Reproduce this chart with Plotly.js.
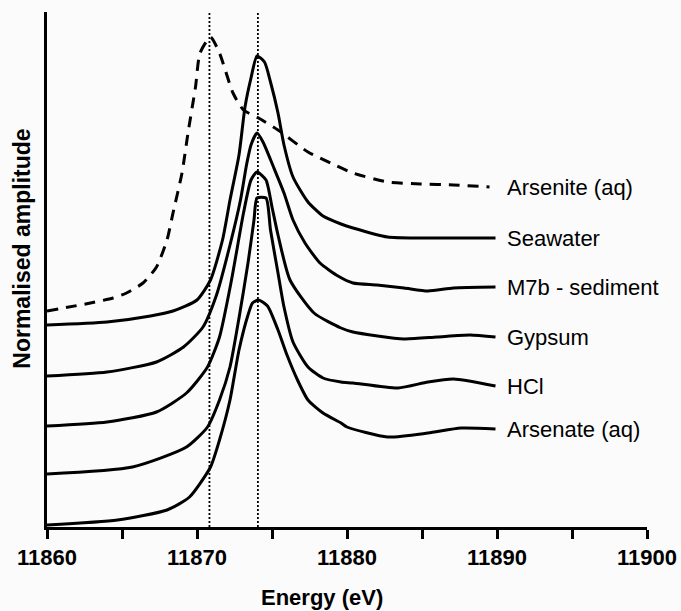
<!DOCTYPE html>
<html>
<head>
<meta charset="utf-8">
<script src="https://cdn.plot.ly/plotly-3.0.1.min.js"></script>
<style>html,body{margin:0;padding:0;background:#fbfbfb;}#chart{width:681px;height:611px;}</style>
</head>
<body>
<div id="chart"></div>
<script>
// ---- Data (energy in eV, normalised amplitude with vertical offsets) ----
const seriesNames = ["Arsenite (aq)", "Seawater", "M7b - sediment", "Gypsum", "HCl", "Arsenate (aq)"];

const arseniteE = [11860, 11862.9, 11864.4, 11865.3, 11866.4, 11867.3, 11868.0, 11868.4, 11869.0, 11869.4, 11869.9, 11870.2, 11870.9, 11871.5, 11872.4, 11873.1, 11874.1, 11875.4, 11877.4, 11878.9, 11880.4, 11882.7, 11884.9, 11887.1, 11889.5];
const arseniteA = [2.16, 2.24, 2.29, 2.34, 2.44, 2.60, 2.87, 3.14, 3.54, 3.94, 4.40, 4.74, 4.90, 4.74, 4.34, 4.17, 4.09, 3.97, 3.75, 3.64, 3.54, 3.45, 3.43, 3.42, 3.40];

const seawaterE = [11860, 11864.0, 11866.9, 11868.4, 11870.0, 11870.9, 11871.7, 11872.2, 11872.8, 11873.2, 11873.6, 11874.0, 11874.5, 11874.9, 11875.4, 11875.8, 11876.4, 11877.4, 11878.4, 11879.6, 11880.4, 11882.7, 11884.9, 11887.1, 11889.9];
const seawaterA = [2.02, 2.05, 2.11, 2.16, 2.27, 2.47, 2.87, 3.27, 3.72, 4.20, 4.49, 4.71, 4.65, 4.45, 4.14, 3.82, 3.50, 3.25, 3.11, 3.03, 2.99, 2.90, 2.89, 2.89, 2.89];

const m7bE = [11860, 11864.0, 11867.3, 11869.1, 11870.4, 11871.3, 11872.2, 11872.9, 11873.3, 11873.6, 11874.0, 11874.4, 11875.1, 11875.8, 11876.4, 11877.2, 11878.2, 11879.4, 11880.4, 11882.0, 11883.8, 11885.4, 11887.1, 11889.9];
const m7bA = [1.51, 1.55, 1.65, 1.80, 2.00, 2.32, 2.82, 3.27, 3.62, 3.82, 3.94, 3.85, 3.60, 3.34, 3.07, 2.84, 2.64, 2.51, 2.44, 2.42, 2.39, 2.36, 2.39, 2.40];

const gypsumE = [11860, 11864.0, 11867.3, 11869.3, 11870.7, 11871.5, 11872.3, 11873.1, 11873.6, 11874.0, 11874.6, 11875.0, 11875.4, 11876.2, 11877.8, 11879.6, 11880.4, 11883.8, 11886.0, 11888.2, 11889.9];
const gypsumA = [1.01, 1.05, 1.15, 1.34, 1.60, 1.90, 2.47, 3.14, 3.47, 3.55, 3.47, 3.20, 2.92, 2.47, 2.14, 1.99, 1.95, 1.88, 1.90, 1.92, 1.90];

const hclE = [11860, 11865.7, 11869.3, 11870.7, 11871.5, 11872.2, 11872.8, 11873.4, 11873.8, 11874.0, 11874.6, 11874.9, 11875.4, 11875.8, 11876.4, 11877.4, 11878.4, 11879.6, 11880.4, 11883.4, 11885.4, 11887.1, 11889.9];
const hclA = [0.53, 0.60, 0.80, 1.00, 1.27, 1.60, 2.09, 2.64, 3.07, 3.29, 3.29, 2.97, 2.54, 2.20, 1.85, 1.60, 1.49, 1.45, 1.44, 1.39, 1.45, 1.48, 1.41];

const arsenateE = [11860, 11864.7, 11868.0, 11869.5, 11870.9, 11871.5, 11872.2, 11872.8, 11873.4, 11873.7, 11874.1, 11874.7, 11875.4, 11876.0, 11876.7, 11877.4, 11878.4, 11879.6, 11880.0, 11882.7, 11885.4, 11887.6, 11889.9];
const arsenateA = [0.02, 0.07, 0.17, 0.30, 0.60, 0.87, 1.27, 1.77, 2.12, 2.24, 2.27, 2.21, 1.97, 1.72, 1.47, 1.27, 1.14, 1.04, 1.00, 0.90, 0.94, 0.99, 0.98];

const referenceEnergies = [11870.83, 11874.06];
const tickValues = [11860, 11865, 11870, 11875, 11880, 11885, 11890, 11895, 11900];
const tickLabels = ["11860", "", "11870", "", "11880", "", "11890", "", "11900"];

// ---- Build ----
const FONT = "Liberation Sans, Arial, Helvetica, sans-serif";
const xs = [arseniteE, seawaterE, m7bE, gypsumE, hclE, arsenateE];
const ys = [arseniteA, seawaterA, m7bA, gypsumA, hclA, arsenateA];

const traces = xs.map((x, i) => ({
  x: x, y: ys[i], type: "scatter", mode: "lines", name: seriesNames[i],
  line: {color: "#000", width: 3, dash: i === 0 ? "11px,8px" : "solid", shape: "spline", smoothing: 0.6},
  hoverinfo: "skip", cliponaxis: false
}));

const shapes = referenceEnergies.map(e => ({
  type: "line", xref: "x", yref: "paper", x0: e, x1: e, y0: 0, y1: 1,
  line: {color: "#000", width: 1.8, dash: "2px,2px"}, layer: "below"
}));

const annotations = seriesNames.map((n, i) => ({
  text: n, x: 11890.5, y: ys[i][ys[i].length - 1], xref: "x", yref: "y",
  xanchor: "left", yanchor: "middle", showarrow: false,
  font: {family: FONT, size: 22, color: "#000"}
}));
annotations.push({
  text: "Energy (eV)", xref: "paper", yref: "paper", x: 0.458, y: -0.136,
  xanchor: "center", yanchor: "middle", showarrow: false,
  font: {family: FONT, size: 22, color: "#000", weight: "bold"}
});
annotations.push({
  text: "Normalised amplitude", xref: "paper", yref: "paper", x: -0.042, y: 0.54,
  xanchor: "center", yanchor: "middle", textangle: -90, showarrow: false,
  font: {family: FONT, size: 23, color: "#000", weight: "bold"}
});

const layout = {
  width: 681, height: 611,
  margin: {l: 47, r: 34, t: 12, b: 84},
  paper_bgcolor: "#fbfbfb", plot_bgcolor: "#fbfbfb",
  showlegend: false,
  xaxis: {
    range: [11860, 11900], showgrid: false, zeroline: false,
    showline: true, linecolor: "#000", linewidth: 3,
    ticks: "outside", ticklen: 9, tickwidth: 3, tickcolor: "#000",
    tickmode: "array", tickvals: tickValues, ticktext: tickLabels,
    tickfont: {family: FONT, size: 22, color: "#000", weight: "bold"}
  },
  yaxis: {
    range: [0, 5.15], showgrid: false, zeroline: false,
    showline: true, linecolor: "#000", linewidth: 3,
    showticklabels: false, ticks: ""
  },
  shapes: shapes,
  annotations: annotations
};

Plotly.newPlot("chart", traces, layout, {displayModeBar: false, staticPlot: true});
</script>
</body>
</html>
